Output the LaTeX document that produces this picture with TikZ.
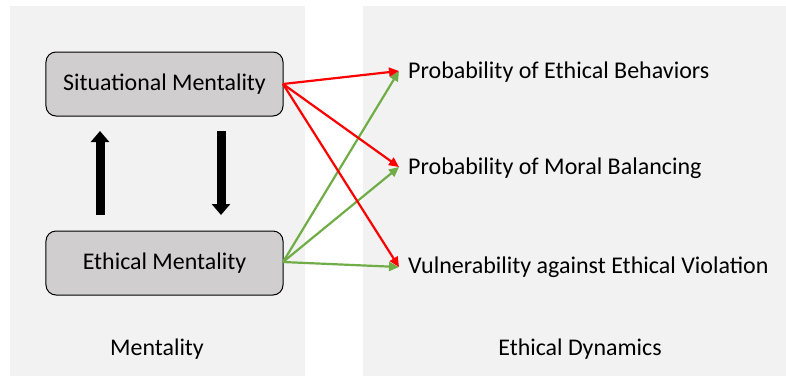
\documentclass[tikz,border=0pt]{standalone}
\usepackage{fontspec}
\setmainfont{Carlito}
\usetikzlibrary{arrows.meta}
\definecolor{panel}{HTML}{F2F2F2}
\definecolor{boxfill}{HTML}{D0CECE}
\definecolor{redarr}{HTML}{FF0000}
\definecolor{greenarr}{HTML}{70AD47}
\begin{document}
\begin{tikzpicture}[x=1bp,y=-1bp,
  mbox/.style={draw=black,line width=1bp,fill=boxfill,rounded corners=10bp,minimum width=237bp,minimum height=64bp,inner sep=0pt,font=\fontsize{24}{28}\selectfont},
  lbl/.style={anchor=west,inner sep=0pt,font=\fontsize{24.1}{28}\selectfont},
  ttl/.style={inner sep=0pt,font=\fontsize{24}{28}\selectfont},
  rarr/.style={draw=redarr,line width=2.2bp,-{Triangle[length=10bp,width=9bp]}},
  garr/.style={draw=greenarr,line width=2.2bp,-{Triangle[length=10bp,width=9bp]}},
  bigarr/.style={draw=black,line width=9bp,-{Triangle[length=11bp,width=18bp]}}]
\useasboundingbox (0,0) rectangle (786,376);
\fill[white] (0,0) rectangle (786,376);
\fill[panel] (10,6) rectangle (305,376);
\fill[panel] (363,6) rectangle (786,376);
\node[mbox] (sit) at (164.5,84) {Situational Mentality};
\node[mbox] (eth) at (164.5,263) {Ethical Mentality};
\node[ttl] (m) at (157,349) {Mentality};
\node[ttl] (d) at (580,349) {Ethical Dynamics};
\node[lbl] (p1) at (408,72) {Probability of Ethical Behaviors};
\node[lbl] (p2) at (408,168) {Probability of Moral Balancing};
\node[lbl] (p3) at (408,267) {Vulnerability against Ethical Violation};
\coordinate (s0) at (283,84);
\coordinate (e0) at (283,262);
\coordinate (t1) at (399,71);
\coordinate (t2) at (399,167);
\coordinate (t3) at (399,267);
\coordinate (u0) at (100,215);
\coordinate (u1) at (100,131);
\coordinate (d0) at (221,131);
\coordinate (d1) at (221,215);
\draw[bigarr] (u0) -- (u1);
\draw[bigarr] (d0) -- (d1);
\draw[garr] (e0) -- (t1);
\draw[garr] (e0) -- (t2);
\draw[garr] (e0) -- (t3);
\draw[rarr] (s0) -- (t1);
\draw[rarr] (s0) -- (t2);
\draw[rarr] (s0) -- (t3);
\end{tikzpicture}
\end{document}
